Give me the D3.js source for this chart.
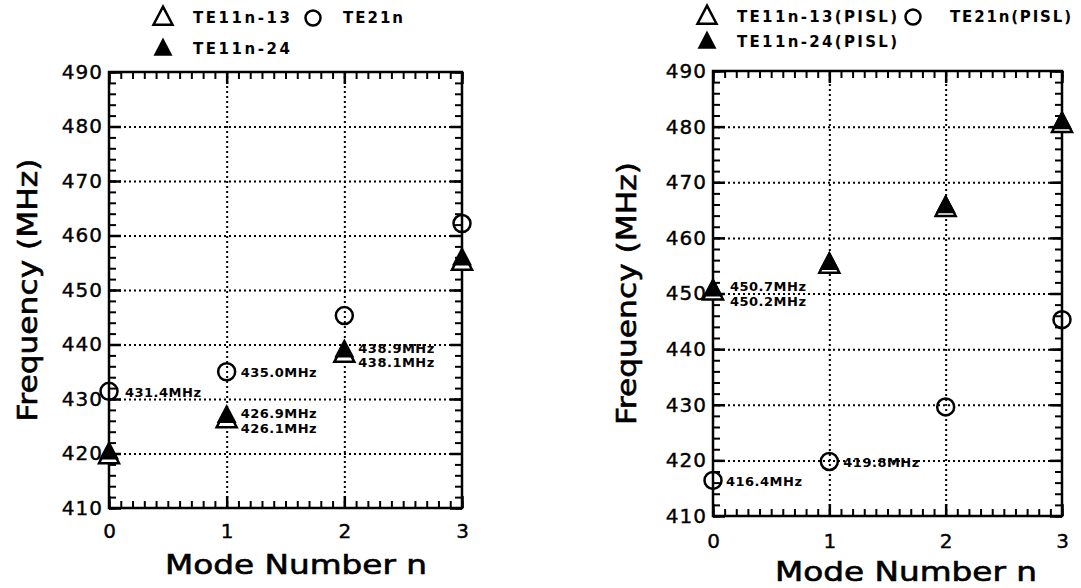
<!DOCTYPE html>
<html>
<head>
<meta charset="utf-8">
<script src="https://cdn.jsdelivr.net/npm/d3@7"></script>
<style>
  body { margin: 0; background: #fff; }
  svg text { font-family: 'DejaVu Sans', sans-serif; fill: #000; }
</style>
</head>
<body>
<div id="chart"></div>
<script>
// mode number n on the x axis
const modeNumbers = [0, 1, 2, 3]
const xTickValues = [0, 1, 2, 3]
const freqTickValues = [410, 420, 430, 440, 450, 460, 470, 480, 490]

// left panel
const te11n13 = [419.5, 426.1, 438.1, 455.0]
const te11n24 = [420.2, 426.9, 438.9, 455.8]
const te21n = [431.4, 435.0, 445.3, 462.2]

// right panel (PISL)
const te11n13Pisl = [450.2, 455.0, 465.2, 480.3]
const te11n24Pisl = [450.7, 455.5, 465.7, 480.8]
const te21nPisl = [416.4, 419.8, 429.6, 445.3]

const width = 1081
const height = 588

const svg = d3.select('#chart')
  .append('svg')
  .attr('width', width)
  .attr('height', height)

const triUp = (cx, cy, s) => `M${cx},${cy - s * 0.6} L${cx + s * 0.5},${cy + s * 0.35} L${cx - s * 0.5},${cy + s * 0.35} Z`

function drawPanel (p) {
  const x = d3.scaleLinear().domain([0, 3]).range([p.left, p.right])
  const y = d3.scaleLinear().domain([410, 490]).range([p.bottom, p.top])
  const w = p.right - p.left
  const h = p.bottom - p.top
  const g = svg.append('g')

  // dotted grid
  g.append('g')
    .attr('transform', `translate(${p.left},0)`)
    .call(d3.axisLeft(y).tickValues(freqTickValues.slice(1, -1)).tickSize(-w).tickFormat(''))
    .call(s => s.select('.domain').remove())
    .selectAll('line')
    .attr('stroke', '#000')
    .attr('stroke-width', 2)
    .attr('stroke-dasharray', '2,3')
  g.append('g')
    .attr('transform', `translate(0,${p.bottom})`)
    .call(d3.axisBottom(x).tickValues(xTickValues.slice(1, -1)).tickSize(-h).tickFormat(''))
    .call(s => s.select('.domain').remove())
    .selectAll('line')
    .attr('stroke', '#000')
    .attr('stroke-width', 2)
    .attr('stroke-dasharray', '2,3')

  // minor and major ticks on all four sides, pointing inward
  const yMinor = d3.range(410, 490.01, 2)
  const xMinor = d3.range(0, 3.001, 0.1)
  const tickAxes = [
    [() => d3.axisLeft(y), `translate(${p.left},0)`, yMinor, freqTickValues],
    [() => d3.axisRight(y), `translate(${p.right},0)`, yMinor, freqTickValues],
    [() => d3.axisBottom(x), `translate(0,${p.bottom})`, xMinor, xTickValues],
    [() => d3.axisTop(x), `translate(0,${p.top})`, xMinor, xTickValues]
  ]
  tickAxes.forEach(([makeAxis, tr, minor, major]) => {
    g.append('g').attr('transform', tr)
      .call(makeAxis().tickValues(minor).tickSize(-7).tickFormat(''))
      .call(s => s.select('.domain').remove())
      .selectAll('line').attr('stroke', '#000').attr('stroke-width', 2)
    g.append('g').attr('transform', tr)
      .call(makeAxis().tickValues(major).tickSize(-12).tickFormat(''))
      .call(s => s.select('.domain').remove())
      .selectAll('line').attr('stroke', '#000').attr('stroke-width', 2.5)
  })

  // frame
  g.append('rect')
    .attr('x', p.left)
    .attr('y', p.top)
    .attr('width', w)
    .attr('height', h)
    .attr('fill', 'none')
    .attr('stroke', '#000')
    .attr('stroke-width', 2.5)

  // tick labels
  const yLab = g.append('g')
    .attr('transform', `translate(${p.left},0)`)
    .call(d3.axisLeft(y).tickValues(freqTickValues).tickSize(0).tickPadding(6))
  yLab.select('.domain').remove()
  yLab.selectAll('text')
    .attr('font-size', 20)
    .attr('letter-spacing', 1)
    .attr('stroke', '#000')
    .attr('stroke-width', 0.4)
    .attr('font-family', "'DejaVu Sans', sans-serif")

  const xLab = g.append('g')
    .attr('transform', `translate(0,${p.bottom})`)
    .call(d3.axisBottom(x).tickValues(xTickValues).tickFormat(d3.format('d')).tickSize(0).tickPadding(p.xPad))
  xLab.select('.domain').remove()
  xLab.selectAll('text')
    .attr('font-size', 20)
    .attr('stroke', '#000')
    .attr('stroke-width', 0.4)
    .attr('font-family', "'DejaVu Sans', sans-serif")

  // axis titles
  g.append('text')
    .attr('transform', `translate(${p.yTitleX},${p.top + h / 2}) rotate(-90)`)
    .attr('text-anchor', 'middle')
    .attr('font-size', 27)
    .attr('stroke', '#000')
    .attr('stroke-width', 0.6)
    .attr('textLength', 263)
    .attr('lengthAdjust', 'spacingAndGlyphs')
    .text('Frequency (MHz)')
  g.append('text')
    .attr('x', p.xTitleX)
    .attr('y', p.xTitleY)
    .attr('text-anchor', 'middle')
    .attr('font-size', 26)
    .attr('stroke', '#000')
    .attr('stroke-width', 0.6)
    .attr('textLength', 262)
    .attr('lengthAdjust', 'spacingAndGlyphs')
    .text('Mode Number n')

  // markers
  const open = modeNumbers.map((n, i) => ({ n, f: p.openTri[i] }))
  const filled = modeNumbers.map((n, i) => ({ n, f: p.filledTri[i] }))
  const circ = modeNumbers.map((n, i) => ({ n, f: p.circles[i] }))

  g.selectAll('.open-tri')
    .data(open)
    .enter()
    .append('path')
    .attr('class', 'open-tri')
    .attr('d', d => triUp(x(d.n), y(d.f), 20))
    .attr('fill', '#fff')
    .attr('stroke', '#000')
    .attr('stroke-width', 2.5)
  g.selectAll('.filled-tri')
    .data(filled)
    .enter()
    .append('path')
    .attr('class', 'filled-tri')
    .attr('d', d => triUp(x(d.n), y(d.f), 20))
    .attr('fill', '#000')
  g.selectAll('.circ')
    .data(circ)
    .enter()
    .append('circle')
    .attr('class', 'circ')
    .attr('cx', d => x(d.n))
    .attr('cy', d => y(d.f))
    .attr('r', 8.5)
    .attr('fill', 'none')
    .attr('stroke', '#000')
    .attr('stroke-width', 2.5)

  // value notes
  p.notes.forEach(nt => {
    const v = nt.series[nt.i]
    g.append('text')
      .attr('x', x(modeNumbers[nt.i]) + nt.dx)
      .attr('y', y(v) + nt.dy)
      .attr('dy', '0.35em')
      .attr('font-size', 13)
      .attr('font-weight', 'bold')
      .attr('textLength', 76)
      .attr('lengthAdjust', 'spacing')
      .text(v.toFixed(1) + 'MHz')
  })

  // legend
  const lg = g.append('g')
  lg.append('path')
    .attr('d', triUp(p.legX, p.legY1, 19))
    .attr('fill', 'none').attr('stroke', '#000').attr('stroke-width', 2.5)
  lg.append('path')
    .attr('d', triUp(p.legX, p.legY2, 19))
    .attr('fill', '#000')
  lg.append('circle')
    .attr('cx', p.legCircX).attr('cy', p.legY1).attr('r', 7.5)
    .attr('fill', 'none').attr('stroke', '#000').attr('stroke-width', 2.5)
  const legText = [
    [p.legX + 30, p.legY1, p.names[0], p.nameLen[0]],
    [p.legX + 30, p.legY2, p.names[1], p.nameLen[1]],
    [p.legCircX + p.circTextDx, p.legY1, p.names[2], p.nameLen[2]]
  ]
  legText.forEach(([tx, ty, t, len]) => {
    lg.append('text')
      .attr('x', tx)
      .attr('y', ty)
      .attr('dy', '0.36em')
      .attr('font-size', 15)
      .attr('font-weight', 'bold')
      .attr('textLength', len)
      .attr('lengthAdjust', 'spacing')
      .text(t)
  })
}

drawPanel({
  left: 109, right: 462, top: 72, bottom: 508,
  xPad: 16, yTitleX: 37, xTitleX: 296, xTitleY: 574,
  openTri: te11n13, filledTri: te11n24, circles: te21n,
  notes: [
    { series: te21n, i: 0, dx: 16, dy: 1 },
    { series: te21n, i: 1, dx: 14, dy: 1 },
    { series: te11n24, i: 1, dx: 14, dy: -2 },
    { series: te11n13, i: 1, dx: 14, dy: 8 },
    { series: te11n24, i: 2, dx: 14, dy: -2 },
    { series: te11n13, i: 2, dx: 14, dy: 8 }
  ],
  legX: 163, legY1: 18, legY2: 49, legCircX: 313, circTextDx: 30,
  names: ['TE11n-13', 'TE11n-24', 'TE21n'],
  nameLen: [97, 97, 60]
})

drawPanel({
  left: 713, right: 1062, top: 71, bottom: 516,
  xPad: 18, yTitleX: 636, xTitleX: 906, xTitleY: 581,
  openTri: te11n13Pisl, filledTri: te11n24Pisl, circles: te21nPisl,
  notes: [
    { series: te11n24Pisl, i: 0, dx: 17, dy: -3 },
    { series: te11n13Pisl, i: 0, dx: 17, dy: 9 },
    { series: te21nPisl, i: 0, dx: 13, dy: 1 },
    { series: te21nPisl, i: 1, dx: 14, dy: 1 }
  ],
  legX: 707, legY1: 17, legY2: 42, legCircX: 913, circTextDx: 37,
  names: ['TE11n-13(PISL)', 'TE11n-24(PISL)', 'TE21n(PISL)'],
  nameLen: [160, 160, 121]
})
</script>
</body>
</html>
